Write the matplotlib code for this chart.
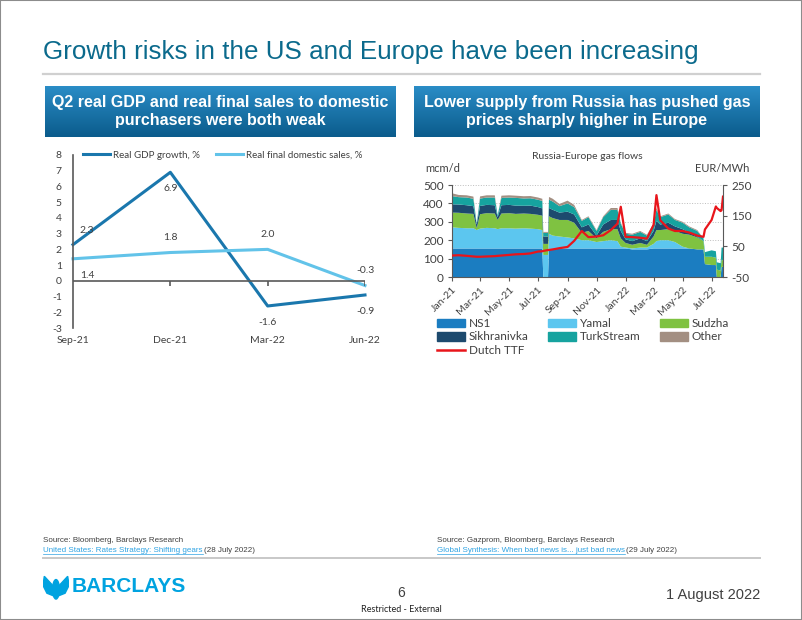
import numpy as np
import pandas as pd
import matplotlib
matplotlib.use('Agg')
import matplotlib.pyplot as plt
import matplotlib.dates as mdates
from matplotlib.colors import LinearSegmentedColormap
from matplotlib.patches import Rectangle, Polygon, Ellipse, Patch
from matplotlib.lines import Line2D

plt.rcParams['axes.unicode_minus'] = False

# ---- left chart data (US GDP) ----
quarters = ['Sep-21', 'Dec-21', 'Mar-22', 'Jun-22']
gdp_growth = [2.3, 6.9, -1.6, -0.9]
final_sales = [1.4, 1.8, 2.0, -0.3]

# ---- right chart data (Russia-Europe gas flows, mcm/d; TTF EUR/MWh) ----
flow_dates = ['2021-01-01', '2021-01-15', '2021-02-01', '2021-02-15', '2021-02-22',
              '2021-03-01', '2021-03-15', '2021-04-01', '2021-04-07', '2021-04-15',
              '2021-05-01', '2021-05-15', '2021-06-01', '2021-06-15', '2021-07-01',
              '2021-07-10', '2021-07-12', '2021-07-22', '2021-07-24', '2021-08-01',
              '2021-08-15', '2021-09-01', '2021-09-15', '2021-10-01', '2021-10-15',
              '2021-11-01', '2021-11-15', '2021-12-01', '2021-12-15', '2021-12-22',
              '2022-01-01', '2022-01-15', '2022-02-01', '2022-02-15', '2022-03-01',
              '2022-03-07', '2022-03-15', '2022-04-01', '2022-04-15', '2022-05-01',
              '2022-05-15', '2022-06-01', '2022-06-14', '2022-06-17', '2022-07-01',
              '2022-07-10', '2022-07-12', '2022-07-20', '2022-07-22', '2022-07-25']
ns1 = [155, 155, 155, 155, 155, 155, 155, 155, 155, 155,
       155, 155, 155, 155, 155, 155, 0, 0, 155, 155,
       155, 155, 155, 155, 155, 155, 155, 155, 155, 155,
       155, 150, 150, 150, 155, 155, 155, 155, 155, 155,
       155, 150, 150, 70, 65, 65, 0, 0, 55, 55]
yamal = [115, 112, 110, 110, 100, 108, 112, 110, 105, 110,
         110, 108, 110, 108, 105, 100, 120, 120, 80, 70,
         65, 60, 55, 45, 45, 35, 40, 45, 40, 10,
         5, 5, 10, 10, 25, 40, 45, 45, 35, 10,
         0, 0, 0, 0, 0, 0, 0, 0, 0, 0]
sudzha = [80, 82, 80, 78, 10, 78, 80, 80, 50, 80,
          82, 80, 80, 80, 78, 78, 60, 60, 95, 95,
          90, 95, 85, 40, 50, 20, 50, 60, 65, 45,
          25, 20, 25, 15, 40, 60, 55, 60, 60, 70,
          75, 65, 45, 40, 45, 40, 40, 35, 40, 35]
sikhranivka = [45, 45, 45, 42, 20, 45, 45, 45, 15, 45,
               45, 45, 42, 45, 42, 40, 40, 40, 45, 45,
               40, 45, 45, 30, 35, 15, 40, 50, 50, 40,
               20, 20, 25, 20, 30, 50, 30, 35, 25, 25,
               10, 5, 0, 0, 0, 0, 0, 0, 0, 0]
turkstream = [45, 40, 42, 40, 5, 40, 40, 42, 10, 40,
              40, 42, 40, 40, 40, 40, 20, 20, 45, 45,
              35, 45, 40, 35, 40, 25, 40, 55, 55, 40,
              30, 35, 35, 30, 35, 60, 40, 45, 35, 35,
              30, 30, 15, 25, 35, 35, 40, 40, 65, 70]
other = [15, 12, 12, 12, 0, 12, 12, 12, 0, 12,
         12, 12, 12, 12, 12, 12, 5, 5, 15, 15,
         12, 15, 12, 5, 5, 5, 5, 10, 10, 5,
         5, 5, 5, 5, 5, 10, 5, 5, 5, 5,
         5, 5, 0, 0, 0, 0, 0, 0, 0, 0]
ttf = [20, 21, 19, 17, 16, 16, 17, 18, 19, 20,
       22, 24, 25, 27, 33, 34, 35, 38, 38, 40,
       44, 48, 68, 100, 80, 82, 86, 103, 124, 179,
       81, 80, 78, 75, 120, 217, 135, 108, 100, 100,
       95, 85, 81, 105, 136, 180, 175, 165, 168, 212]

flow_names = ['NS1', 'Yamal', 'Sudzha', 'Sikhranivka', 'TurkStream', 'Other']
flow_colors = ['#1b7dc1', '#5cc6ef', '#7fc241', '#1d4a6e', '#16a39f', '#a38f82']
ttf_color = '#e8151b'

W, H = 802, 620
fig = plt.figure(figsize=(W / 100, H / 100), dpi=100)

NARROW = ['Liberation Sans Narrow', 'Liberation Sans', 'DejaVu Sans']
CHART = ['Lato', 'DejaVu Sans']
txt_col = '#404040'


def fx(x):
    return x / W


def fy(y):
    return 1 - y / H


def rect(l, t, r, b):
    return [l / W, 1 - b / H, (r - l) / W, (b - t) / H]


# slide frame, title, rules
fig.patches.append(Rectangle((0, 0), 1, 1, transform=fig.transFigure, fill=False,
                             ec='#8c8c8c', lw=1.5))
fig.text(fx(43), fy(52), 'Growth risks in the US and Europe have been increasing',
         fontsize=18.7, color='#0b6a8c', va='center', family=NARROW)
fig.add_artist(Line2D([fx(43), fx(760)], [fy(74), fy(74)], color='#d0d0d0', lw=1.6))
fig.add_artist(Line2D([fx(43), fx(760)], [fy(558), fy(558)], color='#c8c8c8', lw=1.4))

# header boxes with gradient
grad = LinearSegmentedColormap.from_list('hdr', ['#2a8cc6', '#0b5c8c'])
headers = [(45, 396, 'Q2 real GDP and real final sales to domestic\npurchasers were both weak'),
           (414, 760, 'Lower supply from Russia has pushed gas\nprices sharply higher in Europe')]
for l, r, label in headers:
    hx = fig.add_axes(rect(l, 86, r, 137))
    hx.imshow(np.linspace(0, 1, 50).reshape(-1, 1), aspect='auto', cmap=grad,
              extent=[0, 1, 0, 1])
    hx.axis('off')
    hx.text(0.5, 0.5, label, ha='center', va='center', color='white', fontsize=11.5,
            fontweight='bold', family=NARROW, linespacing=1.25)

# ---------------- left chart ----------------
ax = fig.add_axes(rect(73, 155, 365, 328))
xs = np.arange(len(quarters))
ax.plot(xs, gdp_growth, color='#1a77ad', lw=2.2, clip_on=False, label='Real GDP growth, %')
ax.plot(xs, final_sales, color='#62c3e9', lw=2.2, clip_on=False,
        label='Real final domestic sales, %')
ax.set_xlim(0, 3)
ax.set_ylim(-3, 8)
ax.set_yticks(range(-3, 9))
ax.set_xticks(xs)
ax.set_xticklabels(quarters)
for s in ['top', 'right', 'bottom']:
    ax.spines[s].set_visible(False)
ax.spines['left'].set_color('#595959')
ax.spines['left'].set_linewidth(1.2)
ax.axhline(0, color='#595959', lw=1.2)
ax.vlines(xs[1:], -0.3, 0, color='#595959', lw=1.2)
ax.tick_params(axis='y', length=0, pad=8, labelsize=7.5, labelcolor=txt_col)
ax.tick_params(axis='x', length=0, pad=6, labelsize=7.5, labelcolor=txt_col)
for lbl in ax.get_xticklabels() + ax.get_yticklabels():
    lbl.set_family(CHART)

gdp_off = [(10, 10), (0, -12), (0, -12), (0, -12)]
fs_off = [(10, -12), (0, 11), (0, 11), (0, 11)]
for i in xs:
    ax.annotate(f'{gdp_growth[i]:.1f}', (i, gdp_growth[i]), xytext=gdp_off[i],
                textcoords='offset points', ha='center', va='center', fontsize=7.5,
                color=txt_col, family=CHART)
    ax.annotate(f'{final_sales[i]:.1f}', (i, final_sales[i]), xytext=fs_off[i],
                textcoords='offset points', ha='center', va='center', fontsize=7.5,
                color=txt_col, family=CHART)
ax.legend(ncol=2, loc='center left', bbox_to_anchor=(fx(83), fy(155)),
          bbox_transform=fig.transFigure, frameon=False, borderpad=0, borderaxespad=0,
          handlelength=2.8, handletextpad=0.3, columnspacing=1.6,
          prop={'family': CHART, 'size': 7}, labelcolor=txt_col)

# ---------------- right chart ----------------
dates = pd.to_datetime(flow_dates)
bx = fig.add_axes(rect(452, 185, 723, 277))
bx.stackplot(dates, ns1, yamal, sudzha, sikhranivka, turkstream, other,
             colors=flow_colors, lw=0)
bx.set_ylim(0, 500)
bx.set_yticks(range(0, 501, 100))
bx.set_xlim(pd.Timestamp('2021-01-01'), pd.Timestamp('2022-07-25'))
bx.xaxis.set_major_locator(mdates.MonthLocator(bymonth=[1, 3, 5, 7, 9, 11]))
bx.xaxis.set_major_formatter(mdates.DateFormatter('%b-%y'))
bx.grid(axis='y', ls=':', color='#bdbdbd', lw=0.7)
bx.set_axisbelow(True)
bx.spines['top'].set_visible(False)
bx.spines['right'].set_visible(False)
for s in ['left', 'bottom']:
    bx.spines[s].set_color('#595959')
bx.tick_params(axis='y', length=3, pad=3, labelsize=8.5, labelcolor=txt_col, color='#595959')
bx.tick_params(axis='x', length=3, pad=3, labelsize=7.5, labelcolor=txt_col, color='#595959')
for lbl in bx.get_xticklabels():
    lbl.set_rotation(45)
    lbl.set_ha('right')
    lbl.set_rotation_mode('anchor')
for lbl in bx.get_xticklabels() + bx.get_yticklabels():
    lbl.set_family(CHART)

bx2 = bx.twinx()
bx2.plot(dates, ttf, color=ttf_color, lw=1.6)
bx2.set_ylim(-50, 250)
bx2.set_yticks([-50, 50, 150, 250])
for s in ['top', 'left', 'bottom']:
    bx2.spines[s].set_visible(False)
bx2.spines['right'].set_color('#595959')
bx2.tick_params(axis='y', length=3, pad=3, labelsize=8.5, labelcolor=txt_col, color='#595959')
for lbl in bx2.get_yticklabels():
    lbl.set_family(CHART)

fig.text(fx(587), fy(157), 'Russia-Europe gas flows', ha='center', va='center',
         fontsize=7.5, color=txt_col, family=CHART)
fig.text(fx(425), fy(168), 'mcm/d', ha='left', va='center', fontsize=8,
         color=txt_col, family=CHART)
fig.text(fx(749), fy(168), 'EUR/MWh', ha='right', va='center', fontsize=8,
         color=txt_col, family=CHART)

patches = [Patch(color=c, label=n) for n, c in zip(flow_names, flow_colors)]
ttf_handle = Line2D([], [], color=ttf_color, lw=1.8, label='Dutch TTF')
legend_cols = [(437, [patches[0], patches[3], ttf_handle]),
               (548, [patches[1], patches[4]]),
               (660, [patches[2], patches[5]])]
for x0, hs in legend_cols:
    fig.legend(handles=hs, loc='upper left', bbox_to_anchor=(fx(x0), fy(318)),
               frameon=False, borderpad=0, borderaxespad=0, handlelength=2.4,
               handleheight=0.75, handletextpad=0.3, labelspacing=0.2,
               prop={'family': CHART, 'size': 8.5}, labelcolor=txt_col)

# ---------------- footer ----------------
renderer = fig.canvas.get_renderer()
sources = [(43, 'Source: Bloomberg, Barclays Research',
            'United States: Rates Strategy: Shifting gears', '(28 July 2022)'),
           (437, 'Source: Gazprom, Bloomberg, Barclays Research',
            'Global Synthesis: When bad news is... just bad news', '(29 July 2022)')]
for x0, src, link, date in sources:
    fig.text(fx(x0), fy(541), src, fontsize=5.8, color=txt_col, va='center', family=NARROW)
    t = fig.text(fx(x0), fy(550), link, fontsize=5.8, color='#2ea3e3', va='center',
                 family=NARROW)
    bb = t.get_window_extent(renderer)
    fig.add_artist(Line2D([fx(bb.x0), fx(bb.x1)], [fy(554), fy(554)], color='#2ea3e3',
                          lw=0.5))
    fig.text(fx(bb.x1 + 1), fy(550), date, fontsize=5.8, color=txt_col, va='center',
             family=NARROW)

# logo
lx = fig.add_axes(rect(43, 575, 69, 601))
lx.set_xlim(0, 1)
lx.set_ylim(0, 1)
lx.axis('off')
logo_c = '#00a3e0'
lx.add_patch(Polygon([(0.42, 0.55), (0.05, 0.95), (0.0, 0.6), (0.15, 0.3), (0.4, 0.2)],
                     color=logo_c))
lx.add_patch(Polygon([(0.58, 0.55), (0.95, 0.95), (1.0, 0.6), (0.85, 0.3), (0.6, 0.2)],
                     color=logo_c))
lx.add_patch(Ellipse((0.5, 0.45), 0.26, 0.75, color=logo_c))
fig.text(fx(72), fy(587), 'BARCLAYS', fontsize=15, fontweight='bold', color=logo_c,
         va='center', family=NARROW)

fig.text(fx(401), fy(593), '6', fontsize=10, color=txt_col, ha='center', va='center',
         family=NARROW)
fig.text(fx(401), fy(609), 'Restricted - External', fontsize=6.5, color='#222222',
         ha='center', va='center', family=CHART)
fig.text(fx(760), fy(595), '1 August 2022', fontsize=10.5, color=txt_col, ha='right',
         va='center', family=NARROW)

fig.savefig('out.png', dpi=100)
